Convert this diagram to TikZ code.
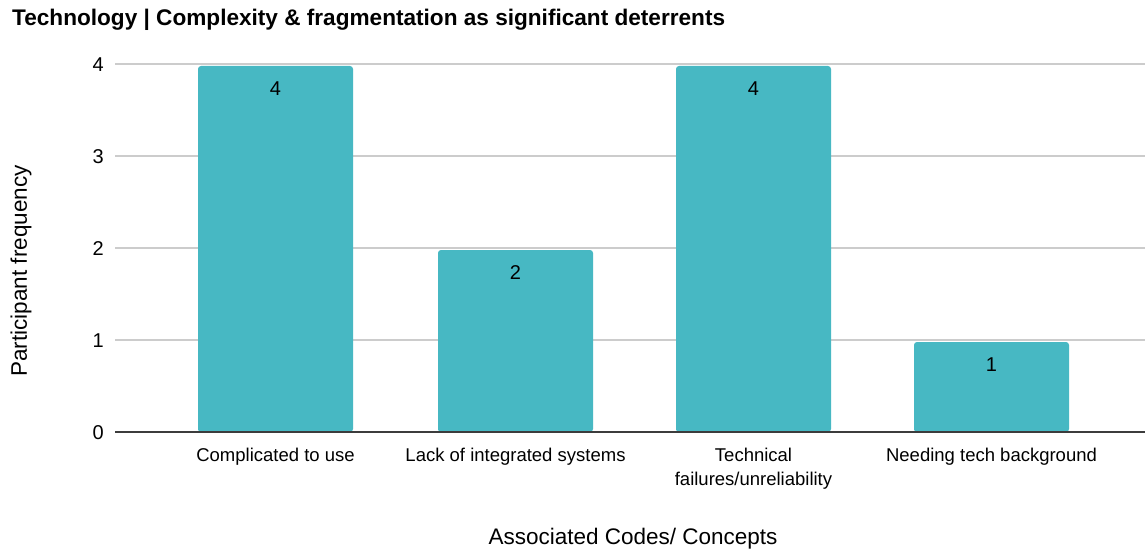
\documentclass[tikz,border=0pt]{standalone}
\usepackage{fontspec}
\setmainfont{Liberation Sans}
\definecolor{barfill}{RGB}{71,184,195}
\definecolor{gridgray}{RGB}{204,204,204}
\definecolor{axisgray}{RGB}{60,60,60}
\begin{document}
\begin{tikzpicture}[x=1pt,y=-1pt,
  gridline/.style={draw=gridgray,line width=1.3pt},
  baseaxis/.style={draw=axisgray,line width=1.3pt},
  bar/.style={fill=barfill,rounded corners=3pt},
  ticklab/.style={anchor=east,font=\fontsize{20}{24}\selectfont,inner sep=0pt},
  vallab/.style={font=\fontsize{20}{24}\selectfont,inner sep=0pt},
  catlab/.style={anchor=north,font=\fontsize{18.5}{24}\selectfont,align=center,inner sep=0pt},
  axtitle/.style={font=\fontsize{22.5}{24}\selectfont,inner sep=0pt},
  charttitle/.style={anchor=west,font=\fontsize{22.6}{26}\selectfont\bfseries,inner sep=0pt}]
\useasboundingbox (0,0) rectangle (1145,551);
\fill[white] (0,0) rectangle (1145,551);

% title
\node[charttitle] (title) at (12,20) {Technology | Complexity \& fragmentation as significant deterrents};

% gridlines and y tick labels
\foreach \v in {1,2,3,4} {
  \draw[gridline] (115,{432-92*\v}) -- (1145,{432-92*\v});
}
\foreach \v in {0,1,2,3,4} {
  \node[ticklab] (t\v) at (104,{433-92*\v}) {\v};
}

% bars
\foreach \i/\x/\v in {1/198/4,2/438/2,3/676/4,4/914/1} {
  \path[bar] (\x,432) |- ({\x+155},{432-92*\v+2}) |- (\x,432) -- cycle;
  \node[vallab] (v\i) at ({\x+77.5},{432-92*\v+25}) {\v};
}

% base axis
\draw[baseaxis] (115,432) -- (1145,432);

% category labels
\node[catlab] (c1) at (275.5,448) {Complicated to use};
\node[catlab] (c2) at (515.5,448) {Lack of integrated systems};
\node[catlab] (c3) at (753.5,448) {Technical\\failures/unreliability};
\node[catlab] (c4) at (991.5,448) {Needing tech background};

% axis titles
\node[axtitle] (xt) at (633,539) {Associated Codes/ Concepts};
\node[axtitle,rotate=90] (yt) at (21,271) {Participant frequency};
\end{tikzpicture}
\end{document}
